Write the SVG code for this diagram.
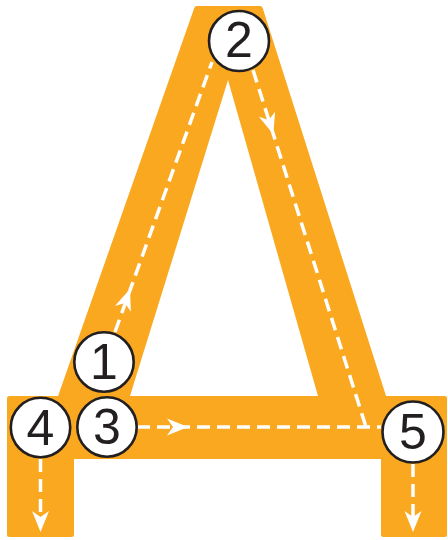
<svg xmlns="http://www.w3.org/2000/svg" width="448" height="540" viewBox="0 0 448 540">
<style>
.shape{fill:#F9A81F;stroke:#F9A81F;stroke-width:5;stroke-linejoin:round}
.hole{fill:#fff}
.dash{fill:none;stroke:#fff;stroke-width:3.5;stroke-dasharray:13 7}
.ah{fill:#fff}
.node circle{fill:#fff;stroke:#231F20;stroke-width:2.6}
.node text{font-family:"Liberation Sans",Arial,sans-serif;font-size:50px;fill:#231F20;text-anchor:middle}
</style>
<defs>
<path id="ah" d="M0,0 L-21,-8.5 L-15,0 L-21,8.5Z"/>
</defs>
<g id="letter">
<path class="shape" d="M196.7,8.5 L260.2,8.5 L384.2,398.5 L444.5,398.5 L444.5,534.5 L383.5,534.5 L383.5,456.5 L71.5,456.5 L71.5,534.5 L9.5,534.5 L9.5,398.5 L59.8,398.5 Z"/>
<path class="hole" d="M228,80 L130,396 L318,396 Z"/>
</g>
<g id="connectors">
<path class="dash" d="M115,332 L212,62"/>
<path class="dash" d="M253,70 L366,427"/>
<path class="dash" d="M137,427 L381,427"/>
<path class="dash" d="M40.5,459 L40.5,525"/>
<path class="dash" d="M413,464 L413,525"/>
<use href="#ah" class="ah" transform="translate(130,289) rotate(-70.2)"/>
<use href="#ah" class="ah" transform="translate(273.3,134.3) rotate(72.5)"/>
<use href="#ah" class="ah" transform="translate(188,427)"/>
<use href="#ah" class="ah" transform="translate(40.5,532) rotate(90)"/>
<use href="#ah" class="ah" transform="translate(413,532) rotate(90)"/>
</g>
<g id="n1" class="node"><circle cx="104" cy="362" r="29.7"/><text x="104" y="379">1</text></g>
<g id="n2" class="node"><circle cx="239" cy="41" r="30"/><text x="239" y="57">2</text></g>
<g id="n3" class="node"><circle cx="107" cy="427" r="29.7"/><text x="107" y="444">3</text></g>
<g id="n4" class="node"><circle cx="40.5" cy="427.5" r="29.7"/><text x="40.5" y="445">4</text></g>
<g id="n5" class="node"><circle cx="413" cy="432" r="30.5"/><text x="413" y="449">5</text></g>
</svg>
